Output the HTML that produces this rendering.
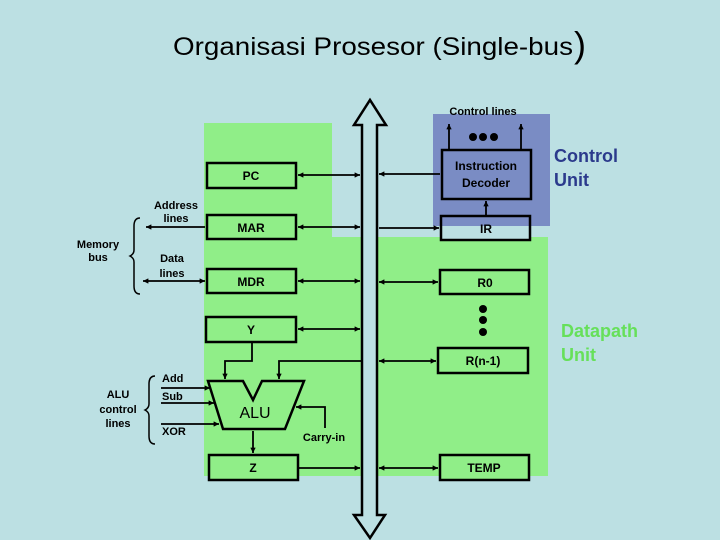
<!DOCTYPE html>
<html><head><style>
html,body{margin:0;padding:0;background:#bce0e3;}
svg{display:block;font-family:"Liberation Sans",Arial,sans-serif;}
</style></head><body>
<svg width="720" height="540" viewBox="0 0 720 540" xmlns="http://www.w3.org/2000/svg">
<defs>
<marker id="a" viewBox="0 0 10 10" refX="10" refY="5" markerWidth="3" markerHeight="3" orient="auto-start-reverse"><path d="M0,0 L10,5 L0,10 z" fill="#000"/></marker>
</defs>
<rect width="720" height="540" fill="#bce0e3"/>
<rect x="204" y="123" width="128" height="353" fill="#90ee88"/>
<rect x="332" y="237" width="216" height="239" fill="#90ee88"/>
<rect x="433" y="114" width="117" height="112" fill="#7a8cc4"/>

<text x="173" y="55" font-size="25" fill="#000" textLength="400" lengthAdjust="spacingAndGlyphs">Organisasi Prosesor (Single-bus</text>
<text x="574" y="57" font-size="36" fill="#000">)</text>

<path d="M362,515 L362,125 L354,125 L370,100 L386,125 L377,125 L377,515 L385,515 L370,538 L354,515 Z" fill="#bce0e3" stroke="#000" stroke-width="2.5"/>

<g stroke="#000" stroke-width="2.5" fill="none">
<rect x="207" y="163" width="89" height="25" fill="#90ee88"/>
<rect x="207" y="215" width="89" height="24" fill="#90ee88"/>
<rect x="207" y="269" width="89" height="24" fill="#90ee88"/>
<rect x="206" y="317" width="90" height="25" fill="#90ee88"/>
<rect x="209" y="455" width="89" height="25" fill="#90ee88"/>
<rect x="442" y="150" width="89" height="49" fill="#7a8cc4"/>
<rect x="440" y="270" width="89" height="24" fill="#90ee88"/>
<rect x="438" y="348" width="90" height="25" fill="#90ee88"/>
<rect x="440" y="455" width="89" height="25" fill="#90ee88"/>
<path d="M208,381 L243,381 L253,400 L262,381 L304,381 L285,429 L223,429 Z" fill="#90ee88"/>
</g>
<rect x="441" y="216" width="89" height="24" fill="#bce0e3"/>
<path d="M441,216 L530,216 L530,226 L441,226 Z" fill="#7a8cc4"/>
<rect x="441" y="216" width="89" height="24" fill="none" stroke="#000" stroke-width="2.5"/>

<g stroke="#000" stroke-width="1.8" fill="none">
<line x1="298" y1="175" x2="360" y2="175" marker-start="url(#a)" marker-end="url(#a)"/>
<line x1="298" y1="227" x2="360" y2="227" marker-start="url(#a)" marker-end="url(#a)"/>
<line x1="298" y1="281" x2="360" y2="281" marker-start="url(#a)" marker-end="url(#a)"/>
<line x1="298" y1="329" x2="360" y2="329" marker-start="url(#a)" marker-end="url(#a)"/>
<line x1="298" y1="468" x2="360" y2="468" marker-end="url(#a)"/>
<line x1="205" y1="227" x2="146" y2="227" marker-end="url(#a)"/>
<line x1="143" y1="281" x2="205" y2="281" marker-start="url(#a)" marker-end="url(#a)"/>
<line x1="440" y1="174" x2="379" y2="174" marker-end="url(#a)"/>
<line x1="379" y1="228" x2="439" y2="228" marker-end="url(#a)"/>
<line x1="379" y1="282" x2="438" y2="282" marker-start="url(#a)" marker-end="url(#a)"/>
<line x1="379" y1="361" x2="436" y2="361" marker-start="url(#a)" marker-end="url(#a)"/>
<line x1="379" y1="468" x2="438" y2="468" marker-start="url(#a)" marker-end="url(#a)"/>
<line x1="486" y1="215" x2="486" y2="201" marker-end="url(#a)"/>
<line x1="449" y1="149" x2="449" y2="124" marker-end="url(#a)"/>
<line x1="521" y1="149" x2="521" y2="124" marker-end="url(#a)"/>
<polyline points="252,342 252,361 225,361 225,379" marker-end="url(#a)"/>
<polyline points="361,361 279,361 279,379" marker-end="url(#a)"/>
<polyline points="325,428 325,407 296,407" marker-end="url(#a)"/>
<line x1="253" y1="431" x2="253" y2="453" marker-end="url(#a)"/>
<line x1="161" y1="388" x2="210" y2="388" marker-end="url(#a)"/>
<line x1="161" y1="403" x2="214" y2="403" marker-end="url(#a)"/>
<line x1="161" y1="424" x2="219" y2="424" marker-end="url(#a)"/>
<path d="M140,218 Q134,218 134,226 L134,250 Q134,254 130,256 Q134,258 134,262 L134,286 Q134,294 140,294" stroke-width="1.5"/>
<path d="M155,376 Q149,376 149,384 L149,404 Q149,408 145,410 Q149,412 149,416 L149,436 Q149,444 155,444" stroke-width="1.5"/>
</g>
<g fill="#000">
<circle cx="473" cy="137" r="4"/><circle cx="483" cy="137" r="4"/><circle cx="494" cy="137" r="4"/>
<circle cx="483" cy="309" r="4"/><circle cx="483" cy="320" r="4"/><circle cx="483" cy="332" r="4"/>
</g>

<g font-size="12" fill="#000" text-anchor="middle" font-weight="bold">
<text x="251" y="180">PC</text>
<text x="251" y="232">MAR</text>
<text x="251" y="286">MDR</text>
<text x="251" y="334">Y</text>
<text x="253" y="472">Z</text>
<text x="486" y="170">Instruction</text>
<text x="486" y="187">Decoder</text>
<text x="486" y="233">IR</text>
<text x="485" y="287">R0</text>
<text x="483" y="365">R(n-1)</text>
<text x="484" y="472">TEMP</text>
<text x="483" y="115" font-size="11">Control lines</text>
<text x="176" y="209" font-size="11">Address</text>
<text x="176" y="222" font-size="11">lines</text>
<text x="172" y="262" font-size="11">Data</text>
<text x="172" y="277" font-size="11">lines</text>
<text x="98" y="248" font-size="11">Memory</text>
<text x="98" y="261" font-size="11">bus</text>
<text x="118" y="398" font-size="11">ALU</text>
<text x="118" y="413" font-size="11">control</text>
<text x="118" y="427" font-size="11">lines</text>
<text x="255" y="418" font-size="16" font-weight="normal">ALU</text>
<text x="324" y="441" font-size="11">Carry-in</text>
</g>
<g font-size="11" fill="#000" font-weight="bold">
<text x="162" y="382">Add</text>
<text x="162" y="400">Sub</text>
<text x="162" y="435">XOR</text>
</g>
<g font-size="18" font-weight="bold">
<text x="554" y="162" fill="#2b3a8c">Control</text>
<text x="554" y="186" fill="#2b3a8c">Unit</text>
<text x="561" y="337" fill="#66e05a">Datapath</text>
<text x="561" y="361" fill="#66e05a">Unit</text>
</g>
</svg>
</body></html>
